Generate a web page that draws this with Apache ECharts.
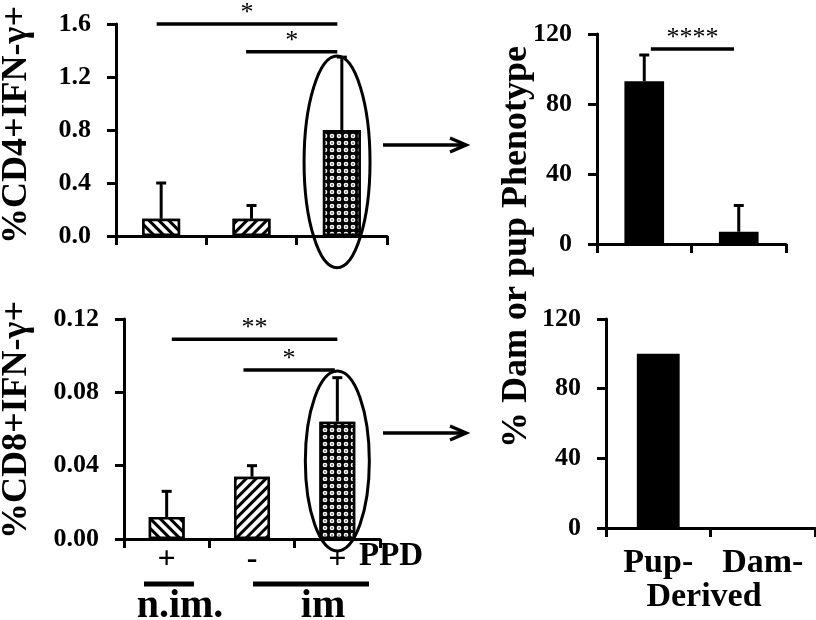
<!DOCTYPE html>
<html><head><meta charset="utf-8">
<script src="https://cdn.jsdelivr.net/npm/echarts@6/dist/echarts.min.js"></script>
<style>html,body{margin:0;padding:0;background:#fff}#c{width:816px;height:620px}</style>
</head><body><div id="c"></div>
<script>
// ---- data ----
const ppdCategories = ['+', '-', '+'];
const cd4Mean = [0.13, 0.13, 0.80];
const cd4Err = [0.27, 0.10, 0.55];
const cd8Mean = [0.012, 0.034, 0.064];
const cd8Err = [0.014, 0.006, 0.024];
const originCategories = ['Pup-', 'Dam-'];
const cd4OriginMean = [93, 7];
const cd4OriginErr = [15, 15];
const cd8OriginMean = [100, 0];
const cd4Sig = [{from: -0.05, to: 1.95, y: 1.6, text: '*'}, {from: 0.94, to: 1.95, y: 1.39, text: '*'}];
const cd8Sig = [{from: 0.06, to: 2.0, y: 0.109, text: '**'}, {from: 0.9, to: 1.97, y: 0.0922, text: '*'}];
const originSig = [{from: 0.07, to: 0.95, y: 111.4, text: '****'}];
const cd4Ellipse = [{cat: 1.947, top: 1.358, bottom: -0.24, half: 0.365}];
const cd8Ellipse = [{cat: 2.0, top: 0.0916, bottom: -0.0065, half: 0.375}];

const SERIF = '"Liberation Serif", "Times New Roman", serif';
const BLACK = '#000';
const RING = 'path://M0,5 A5,5 0 1 1 10,5 A5,5 0 1 1 0,5 Z M3.4,5 A1.6,1.6 0 1 0 6.6,5 A1.6,1.6 0 1 0 3.4,5 Z';

const hatchBack = {symbol: 'rect', symbolSize: 1, color: BLACK, backgroundColor: '#fff', dashArrayX: [1, 0], dashArrayY: [2.8, 3.2], rotation: Math.PI / 4};
const hatchFwd = {symbol: 'rect', symbolSize: 1, color: BLACK, backgroundColor: '#fff', dashArrayX: [1, 0], dashArrayY: [2.8, 3.2], rotation: -Math.PI / 4};
const dots = {symbol: RING, symbolSize: 0.78, color: '#fff', backgroundColor: '#000', dashArrayX: [6, 0.8], dashArrayY: [6, 0.8], rotation: 0};

function patterned(vals, decals) {
  return vals.map((v, i) => ({value: v, itemStyle: {color: i === 2 ? '#000' : '#fff', decal: decals[i]}}));
}

function errRender(params, api) {
  const x = api.value(0), m = api.value(1), e = api.value(2);
  const p0 = api.coord([x, m]);
  const p1 = api.coord([x, m + e]);
  return {type: 'group', children: [
    {type: 'line', shape: {x1: p0[0], y1: p0[1], x2: p1[0], y2: p1[1]}, style: {stroke: BLACK, lineWidth: 3}},
    {type: 'line', shape: {x1: p1[0] - 5, y1: p1[1], x2: p1[0] + 5, y2: p1[1]}, style: {stroke: BLACK, lineWidth: 3}}
  ]};
}
function makeSig(list) {
  return function (params, api) {
    const s = list[params.dataIndex];
    const a = api.coord([0, s.y]), b = api.coord([1, s.y]);
    const w = b[0] - a[0];
    const x1 = a[0] + s.from * w, x2 = a[0] + s.to * w;
    return {type: 'group', children: [
      {type: 'line', shape: {x1: x1, y1: a[1], x2: x2, y2: a[1]}, style: {stroke: BLACK, lineWidth: 3.5}},
      {type: 'text', x: (x1 + x2) / 2, y: a[1] - 11, style: {text: s.text, fill: BLACK, font: 'normal 26px ' + SERIF, align: 'center', verticalAlign: 'middle'}}
    ]};
  };
}
function makeEllipse(list) {
  return function (params, api) {
    const e = list[params.dataIndex];
    const a = api.coord([0, e.top]), b = api.coord([1, e.top]);
    const w = b[0] - a[0];
    const yb = api.coord([0, e.bottom])[1];
    return {type: 'ellipse', shape: {cx: a[0] + e.cat * w, cy: (a[1] + yb) / 2, rx: e.half * w, ry: (yb - a[1]) / 2},
      style: {stroke: BLACK, fill: null, lineWidth: 3}};
  };
}

const axisCommon = {
  axisLine: {show: true, lineStyle: {color: BLACK, width: 3}},
  axisTick: {show: true, inside: false, length: 9, lineStyle: {color: BLACK, width: 3}},
  splitLine: {show: false}
};
function yAxis(grid, min, max, interval, dec) {
  return Object.assign({}, axisCommon, {type: 'value', gridIndex: grid, min: min, max: max, interval: interval,
    axisLabel: {margin: 25, color: BLACK, fontFamily: SERIF, fontWeight: 'bold', fontSize: 26, formatter: v => v.toFixed(dec)}});
}
function xAxis(grid, cats, labelOpt) {
  return Object.assign({}, axisCommon, {type: 'category', gridIndex: grid, data: cats, boundaryGap: true,
    axisTick: {show: true, inside: false, length: 9, alignWithLabel: false, lineStyle: {color: BLACK, width: 3}},
    axisLabel: labelOpt || {show: false}});
}

const option = {
  animation: false,
  backgroundColor: '#fff',
  grid: [
    {left: 116, top: 24, width: 271, height: 212},
    {left: 124, top: 319, width: 256, height: 220},
    {left: 597, top: 34, width: 189, height: 210},
    {left: 606, top: 319, width: 209, height: 209}
  ],
  xAxis: [
    xAxis(0, ppdCategories),
    xAxis(1, ppdCategories, {show: true, interval: 0, margin: 5, color: BLACK, fontFamily: SERIF, fontWeight: 'bold', fontSize: 32}),
    xAxis(2, originCategories),
    xAxis(3, originCategories, {show: true, interval: 0, margin: 18, color: BLACK, fontFamily: SERIF, fontWeight: 'bold', fontSize: 34})
  ],
  yAxis: [
    yAxis(0, 0, 1.6, 0.4, 1),
    yAxis(1, 0, 0.12, 0.04, 2),
    yAxis(2, 0, 120, 40, 0),
    yAxis(3, 0, 120, 40, 0)
  ],
  series: [
    {type: 'bar', xAxisIndex: 0, yAxisIndex: 0, barWidth: '42%', data: patterned(cd4Mean, [hatchBack, hatchFwd, dots]),
      itemStyle: {borderColor: BLACK, borderWidth: 2.5}},
    {type: 'custom', xAxisIndex: 0, yAxisIndex: 0, z: 5, renderItem: errRender, data: cd4Mean.map((m, i) => [i, m, cd4Err[i]])},
    {type: 'custom', xAxisIndex: 0, yAxisIndex: 0, z: 6, clip: false, renderItem: makeSig(cd4Sig), data: cd4Sig.map(s => [s.from, s.y])},
    {type: 'custom', xAxisIndex: 0, yAxisIndex: 0, z: 6, clip: false, renderItem: makeEllipse(cd4Ellipse), data: cd4Ellipse.map(e => [e.cat, e.top])},

    {type: 'bar', xAxisIndex: 1, yAxisIndex: 1, barWidth: '42%', data: patterned(cd8Mean, [hatchBack, hatchFwd, dots]),
      itemStyle: {borderColor: BLACK, borderWidth: 2.5}},
    {type: 'custom', xAxisIndex: 1, yAxisIndex: 1, z: 5, renderItem: errRender, data: cd8Mean.map((m, i) => [i, m, cd8Err[i]])},
    {type: 'custom', xAxisIndex: 1, yAxisIndex: 1, z: 6, clip: false, renderItem: makeSig(cd8Sig), data: cd8Sig.map(s => [s.from, s.y])},
    {type: 'custom', xAxisIndex: 1, yAxisIndex: 1, z: 6, clip: false, renderItem: makeEllipse(cd8Ellipse), data: cd8Ellipse.map(e => [e.cat, e.top])},

    {type: 'bar', xAxisIndex: 2, yAxisIndex: 2, barWidth: '42%', data: cd4OriginMean, itemStyle: {color: BLACK}},
    {type: 'custom', xAxisIndex: 2, yAxisIndex: 2, z: 5, renderItem: errRender, data: cd4OriginMean.map((m, i) => [i, m, cd4OriginErr[i]])},
    {type: 'custom', xAxisIndex: 2, yAxisIndex: 2, z: 6, clip: false, renderItem: makeSig(originSig), data: originSig.map(s => [s.from, s.y])},

    {type: 'bar', xAxisIndex: 3, yAxisIndex: 3, barWidth: '41%', data: cd8OriginMean, itemStyle: {color: BLACK}}
  ],
  graphic: [
    {type: 'text', x: 17, y: 125, rotation: Math.PI / 2, style: {text: '%CD4+IFN-γ+', fill: BLACK, font: 'bold 36px ' + SERIF, align: 'center', verticalAlign: 'middle'}},
    {type: 'text', x: 17, y: 420, rotation: Math.PI / 2, style: {text: '%CD8+IFN-γ+', fill: BLACK, font: 'bold 36px ' + SERIF, align: 'center', verticalAlign: 'middle'}},
    {type: 'text', x: 517, y: 247, rotation: Math.PI / 2, style: {text: '% Dam or pup Phenotype', fill: BLACK, font: 'bold 36px ' + SERIF, align: 'center', verticalAlign: 'middle'}},
    {type: 'text', x: 359, y: 556, style: {text: 'PPD', fill: BLACK, font: 'bold 33px ' + SERIF, align: 'left', verticalAlign: 'middle'}},
    {type: 'line', shape: {x1: 144, y1: 584, x2: 194, y2: 584}, style: {stroke: BLACK, lineWidth: 5}},
    {type: 'line', shape: {x1: 253, y1: 584, x2: 369, y2: 584}, style: {stroke: BLACK, lineWidth: 5}},
    {type: 'text', x: 180, y: 607, style: {text: 'n.im.', fill: BLACK, font: 'bold 40px ' + SERIF, align: 'center', verticalAlign: 'middle'}},
    {type: 'text', x: 323, y: 607, style: {text: 'im', fill: BLACK, font: 'bold 40px ' + SERIF, align: 'center', verticalAlign: 'middle'}},
    {type: 'text', x: 704, y: 597, style: {text: 'Derived', fill: BLACK, font: 'bold 34px ' + SERIF, align: 'center', verticalAlign: 'middle'}},
    {type: 'group', children: [
      {type: 'line', shape: {x1: 383, y1: 145, x2: 465, y2: 145}, style: {stroke: BLACK, lineWidth: 3.5}},
      {type: 'polyline', shape: {points: [[450, 138], [466, 145], [450, 152]]}, style: {stroke: BLACK, lineWidth: 3.5, fill: null}}
    ]},
    {type: 'group', children: [
      {type: 'line', shape: {x1: 383, y1: 433, x2: 465, y2: 433}, style: {stroke: BLACK, lineWidth: 3.5}},
      {type: 'polyline', shape: {points: [[450, 426], [466, 433], [450, 440]]}, style: {stroke: BLACK, lineWidth: 3.5, fill: null}}
    ]}
  ]
};
const chart = echarts.init(document.getElementById('c'), null, {renderer: 'canvas'});
chart.setOption(option);
</script></body></html>
